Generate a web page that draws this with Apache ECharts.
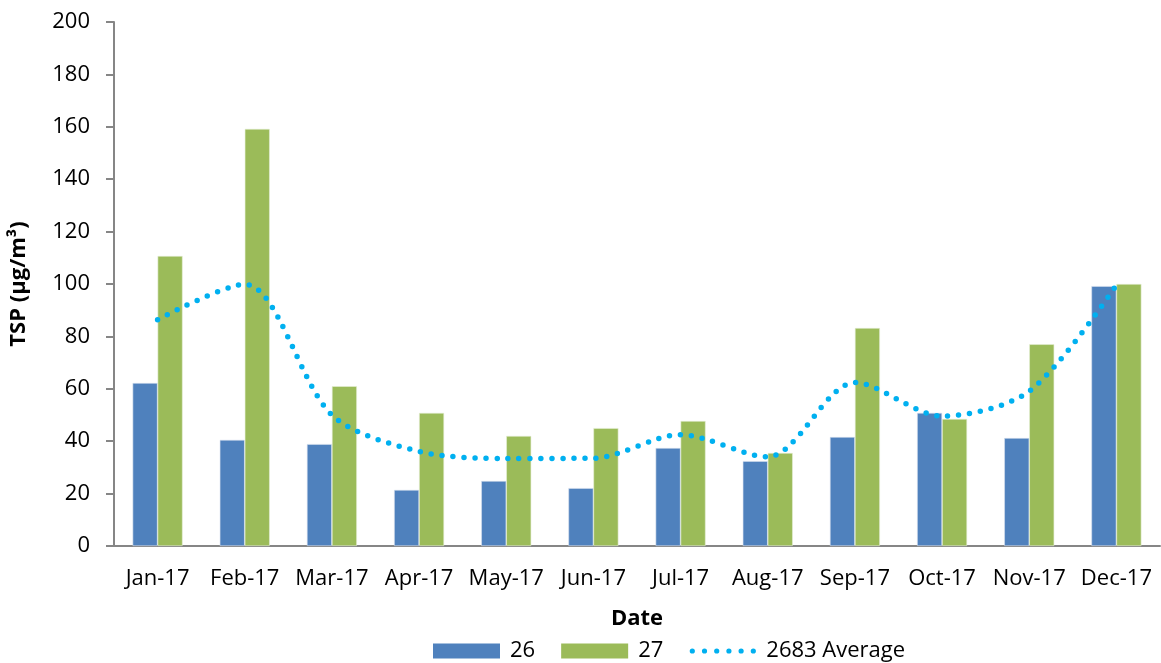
<!DOCTYPE html>
<html>
<head>
<meta charset="utf-8">
<script src="https://cdn.jsdelivr.net/npm/echarts@6/dist/echarts.min.js"></script>
<style>
html,body{margin:0;padding:0;background:#fff;}
#chart{width:1161px;height:663px;}
</style>
</head>
<body>
<div id="chart"></div>
<script>
const categories = ['Jan-17','Feb-17','Mar-17','Apr-17','May-17','Jun-17','Jul-17','Aug-17','Sep-17','Oct-17','Nov-17','Dec-17'];
const series26 = [62.2, 40.5, 38.9, 21.4, 24.8, 22.1, 37.4, 32.4, 41.6, 50.8, 41.2, 99.2];
const series27 = [110.7, 159.2, 61.0, 50.8, 42.0, 45.0, 47.7, 35.5, 83.2, 48.5, 77.0, 100.0];
const averageSeries = [86.4, 99.9, 50.0, 36.1, 33.4, 33.5, 42.5, 34.0, 62.4, 49.6, 59.1, 99.6];
const yTicks = {min: 0, max: 200, interval: 20};

const FONT = '"Open Sans", "Liberation Sans", sans-serif';

// dotted legend icon: six dots in a row
function dotsPath() {
  let d = '';
  const r = 2.6, cy = 7.5;
  for (let i = 0; i < 6; i++) {
    const cx = 3 + i * 12.2;
    d += 'M' + (cx - r) + ',' + cy + 'a' + r + ',' + r + ' 0 1,0 ' + (2 * r) + ',0a' + r + ',' + r + ' 0 1,0 ' + (-2 * r) + ',0Z';
  }
  return 'path://M0,0M67,15' + d;
}

const chart = echarts.init(document.getElementById('chart'), null, {renderer: 'canvas'});
chart.setOption({
  animation: false,
  textStyle: {fontFamily: FONT, color: '#000'},
  grid: {left: 113, right: 1, top: 22, bottom: 117, containLabel: false},
  legend: {
    left: 428,
    top: 635,
    itemWidth: 67,
    itemHeight: 15,
    itemGap: 26,
    textStyle: {fontFamily: FONT, fontSize: 22, color: '#000', padding: [0, 0, 0, 5]},
    data: [
      {name: '26', icon: 'rect', itemStyle: {color: '#4F81BD', borderWidth: 0}},
      {name: '27', icon: 'rect', itemStyle: {color: '#9BBB59', borderWidth: 0}},
      {name: '2683 Average', icon: dotsPath(), itemStyle: {color: '#00B0F0', borderWidth: 0}}
    ]
  },
  xAxis: {
    type: 'category',
    data: categories,
    name: 'Date',
    nameLocation: 'middle',
    nameGap: 62,
    nameTextStyle: {fontFamily: FONT, fontSize: 22, fontWeight: 'bold', color: '#000'},
    axisLine: {lineStyle: {color: '#868686', width: 2}},
    axisTick: {show: false},
    axisLabel: {fontFamily: FONT, fontSize: 22, color: '#000', margin: 22, interval: 0}
  },
  yAxis: {
    type: 'value',
    min: yTicks.min, max: yTicks.max, interval: yTicks.interval,
    name: 'TSP (μg/m³)',
    nameLocation: 'middle',
    nameGap: 84,
    nameRotate: 90,
    nameTextStyle: {fontFamily: FONT, fontSize: 22, fontWeight: 'bold', color: '#000'},
    axisLine: {show: true, lineStyle: {color: '#868686', width: 2}},
    axisTick: {show: true, length: 8, lineStyle: {color: '#868686', width: 2}},
    splitLine: {show: false},
    axisLabel: {fontFamily: FONT, fontSize: 22, color: '#000', margin: 24}
  },
  series: [
    {
      name: '26', type: 'bar', data: series26, barWidth: 25, barGap: '0%',
      itemStyle: {color: '#4F81BD', borderColor: '#d6e0ee', borderWidth: 0.6}
    },
    {
      name: '27', type: 'bar', data: series27, barWidth: 25, barGap: '0%',
      itemStyle: {color: '#9BBB59', borderColor: '#e6efd6', borderWidth: 0.6}
    },
    {
      name: '2683 Average', type: 'line', data: averageSeries, smooth: 0.3,
      symbol: 'none', z: 5,
      itemStyle: {color: '#00B0F0'},
      lineStyle: {color: '#00B0F0', width: 5.5, type: [0, 11], cap: 'round'}
    }
  ]
});
</script>
</body>
</html>
